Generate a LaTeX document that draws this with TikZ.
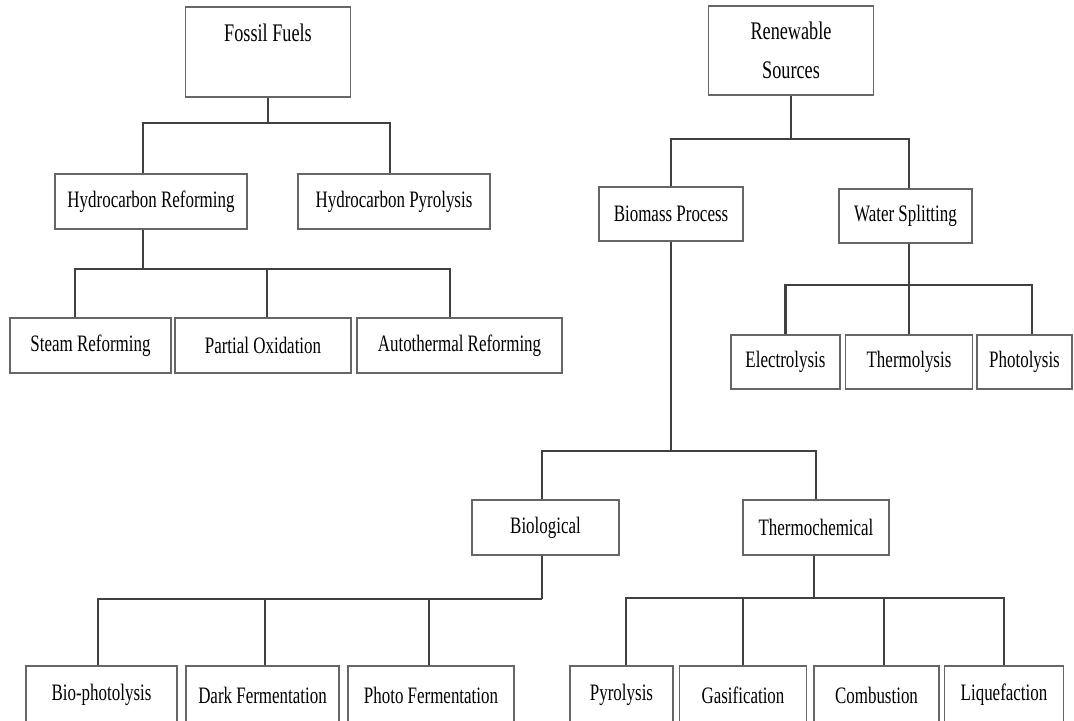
\documentclass[tikz,border=0pt]{standalone}
\usepackage{fontspec}
\setmainfont{Liberation Serif}[FakeStretch=0.72]
\usetikzlibrary{positioning}

\begin{document}
\begin{tikzpicture}[x=0.02cm,y=-0.02cm,
	box/.style={shape=rectangle,draw=black!60,line width=0.9pt,inner sep=1pt,
		font=\fontsize{13.4}{16}\selectfont},
	topbox/.style={box,align=center,font=\fontsize{14.4}{22}\selectfont},
	link/.style={draw=black!75,line width=1.2pt}]
				\useasboundingbox (0,0) rectangle (1074,720);
				% top level
				\node[topbox,minimum width=3.3cm,minimum height=1.8cm] (ff) at (268,52) {Fossil Fuels\\\mbox{}};
				\node[topbox,minimum width=3.3cm,minimum height=1.78cm] (rs) at (791,50.5) {Renewable\\Sources};
				
				% fossil branch
				\node[box,minimum width=3.84cm,minimum height=1.1cm] (hr) at (151,201.5) {Hydrocarbon Reforming};
				\node[box,minimum width=3.84cm,minimum height=1.1cm] (hp) at (394,201.5) {Hydrocarbon Pyrolysis};
				\node[box,minimum width=3.22cm,minimum height=1.1cm] (sr) at (90.5,345.5) {Steam Reforming};
				\node[box,minimum width=3.52cm,minimum height=1.1cm] (po) at (263,345.5) {Partial Oxidation};
				\node[box,minimum width=4.1cm,minimum height=1.1cm] (atr) at (459.5,345.5) {Autothermal Reforming};
				
				% renewable branch
				\node[box,minimum width=2.88cm,minimum height=1.08cm] (bp) at (671,214) {Biomass Process};
				\node[box,minimum width=2.66cm,minimum height=1.08cm] (ws) at (905.5,216) {Water Splitting};
				\node[box,minimum width=2.18cm,minimum height=1.08cm] (el) at (785.5,362) {Electrolysis};
				\node[box,minimum width=2.54cm,minimum height=1.08cm] (th) at (909,362) {Thermolysis};
				\node[box,minimum width=1.9cm,minimum height=1.08cm] (ph) at (1024.5,362) {Photolysis};
				\node[box,minimum width=2.94cm,minimum height=1.1cm] (bio) at (545.5,527.5) {Biological};
				\node[box,minimum width=2.92cm,minimum height=1.1cm] (tc) at (816,527.5) {Thermochemical};
				\node[box,minimum width=3.02cm,minimum height=1.16cm] (bph) at (101.5,695) {Bio-photolysis};
				\node[box,minimum width=3.06cm,minimum height=1.16cm] (df) at (262.5,695) {Dark Fermentation};
				\node[box,minimum width=3.32cm,minimum height=1.16cm] (pf) at (431,695) {Photo Fermentation};
				\node[box,minimum width=2.06cm,minimum height=1.16cm] (pyr) at (621.5,695) {Pyrolysis};
				\node[box,minimum width=2.54cm,minimum height=1.16cm] (gas) at (743,695) {Gasification};
				\node[box,minimum width=2.5cm,minimum height=1.16cm] (com) at (876.5,695) {Combustion};
				\node[box,minimum width=2.38cm,minimum height=1.16cm] (liq) at (1004,695) {Liquefaction};
				
				% junction points
				\path (ff.south) ++(0,25) coordinate (ffbar);
				\path ([xshift=-0.16cm]hr.south) ++(0,39) coordinate (hrbar);
				\path (rs.south) ++(0,43) coordinate (rsbar);
				\path ([xshift=0.07cm]ws.south) ++(0,41) coordinate (wsbar);
				\path (bp.south) ++(0,209) coordinate (bpbar);
				\path ([xshift=-0.07cm]bio.south) ++(0,43) coordinate (biobar);
				\path ([xshift=-0.04cm]tc.south) ++(0,42) coordinate (tcbar);
				
				\path[link] (ff.south) -- (ffbar);
				\path[link] ([xshift=-0.16cm]hr.north) |- (ffbar);
				\path[link] ([xshift=-0.08cm]hp.north) |- (ffbar);
				
				\path[link] ([xshift=-0.16cm]hr.south) -- (hrbar);
				\path[link] ([xshift=-0.31cm]sr.north) |- (hrbar);
				\path[link] ([xshift=0.08cm]po.north) |- (hrbar);
				\path[link] ([xshift=-0.19cm]atr.north) |- (hrbar);
				
				\path[link] (rs.south) -- (rsbar);
				\path[link] (bp.north) |- (rsbar);
				\path[link] ([xshift=0.07cm]ws.north) |- (rsbar);
				
				\path[link] ([xshift=0.07cm]ws.south) -- (wsbar);
				\path[link] (el.north) |- (wsbar);
				\path[link] (th.north) |- (wsbar);
				\path[link] ([xshift=0.15cm]ph.north) |- (wsbar);
				
				\path[link] (bp.south) -- (bpbar);
				\path[link] ([xshift=-0.07cm]bio.north) |- (bpbar);
				\path[link] (tc.north) |- (bpbar);
				
				\path[link] ([xshift=-0.07cm]bio.south) -- (biobar);
				\path[link] ([xshift=-0.07cm]bph.north) |- (biobar);
				\path[link] ([xshift=0.05cm]df.north) |- (biobar);
				\path[link] ([xshift=-0.04cm]pf.north) |- (biobar);
				
				\path[link] ([xshift=-0.04cm]tc.south) -- (tcbar);
				\path[link] ([xshift=0.09cm]pyr.north) |- (tcbar);
				\path[link] (gas.north) |- (tcbar);
				\path[link] ([xshift=0.15cm]com.north) |- (tcbar);
				\path[link] (liq.north) |- (tcbar);
			\end{tikzpicture}
\end{document}
